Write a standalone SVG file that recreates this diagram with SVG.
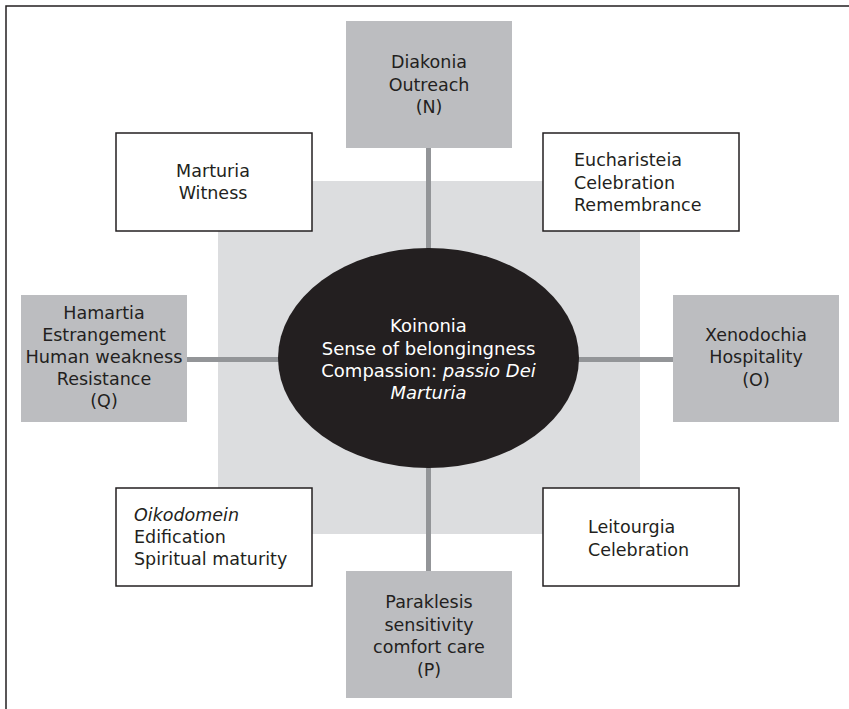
<svg xmlns="http://www.w3.org/2000/svg" width="849" height="709" viewBox="0 0 849 709">
<style>
.t{font-family:"DejaVu Sans","Liberation Sans",sans-serif;font-size:17.5px;fill:#231f20}
.c{text-anchor:middle}
.w{font-family:"DejaVu Sans","Liberation Sans",sans-serif;font-size:18px;fill:#ffffff;text-anchor:middle}
.g{fill:#bcbdc0;stroke:none}
.b{fill:#ffffff;stroke:#231f20;stroke-width:1.5}
.conn{stroke:#939598;stroke-width:5;fill:none}
</style>
<rect width="849" height="709" fill="#ffffff"/>
<path d="M6 709 V6 H849" fill="none" stroke="#231f20" stroke-width="1.5"/>
<rect id="background" x="218" y="181" width="422" height="353" fill="#dcdddf"/>
<g id="connectors">
<line class="conn" x1="428.5" y1="148" x2="428.5" y2="250"/>
<line class="conn" x1="428.5" y1="466" x2="428.5" y2="571"/>
<line class="conn" x1="187" y1="359.5" x2="280" y2="359.5"/>
<line class="conn" x1="577" y1="359.5" x2="673" y2="359.5"/>
</g>
<g id="koinonia">
<ellipse cx="428.5" cy="358" rx="150.5" ry="110" fill="#231f20"/>
<text class="w" x="428.5" y="332">Koinonia</text>
<text class="w" x="428.5" y="355">Sense of belongingness</text>
<text class="w" x="428.5" y="377">Compassion: <tspan font-style="italic">passio Dei</tspan></text>
<text class="w" x="428.5" y="399" font-style="italic">Marturia</text>
</g>
<g id="diakonia">
<rect class="g" x="346" y="21" width="166" height="127"/>
<text class="t c" x="429" y="68">Diakonia</text>
<text class="t c" x="429" y="90.5">Outreach</text>
<text class="t c" x="429" y="113">(N)</text>
</g>
<g id="marturia">
<rect class="b" x="116" y="133" width="196" height="98"/>
<text class="t c" x="213" y="177">Marturia</text>
<text class="t c" x="213" y="199">Witness</text>
</g>
<g id="eucharisteia">
<rect class="b" x="543" y="133" width="196" height="98"/>
<text class="t" x="574" y="166">Eucharisteia</text>
<text class="t" x="574" y="188.5">Celebration</text>
<text class="t" x="574" y="211">Remembrance</text>
</g>
<g id="hamartia">
<rect class="g" x="21" y="295" width="166" height="127"/>
<text class="t c" x="104" y="319">Hamartia</text>
<text class="t c" x="104" y="341">Estrangement</text>
<text class="t c" x="104" y="363" textLength="157" lengthAdjust="spacingAndGlyphs">Human weakness</text>
<text class="t c" x="104" y="385">Resistance</text>
<text class="t c" x="104" y="407">(Q)</text>
</g>
<g id="xenodochia">
<rect class="g" x="673" y="295" width="166" height="127"/>
<text class="t c" x="756" y="341">Xenodochia</text>
<text class="t c" x="756" y="363">Hospitality</text>
<text class="t c" x="756" y="386">(O)</text>
</g>
<g id="oikodomein">
<rect class="b" x="116" y="488" width="196" height="98"/>
<text class="t" x="134" y="521" font-style="italic">Oikodomein</text>
<text class="t" x="134" y="543">Edification</text>
<text class="t" x="134" y="565">Spiritual maturity</text>
</g>
<g id="leitourgia">
<rect class="b" x="543" y="488" width="196" height="98"/>
<text class="t" x="588" y="533">Leitourgia</text>
<text class="t" x="588" y="556">Celebration</text>
</g>
<g id="paraklesis">
<rect class="g" x="346" y="571" width="166" height="127"/>
<text class="t c" x="429" y="608">Paraklesis</text>
<text class="t c" x="429" y="631">sensitivity</text>
<text class="t c" x="429" y="653">comfort care</text>
<text class="t c" x="429" y="676">(P)</text>
</g>
</svg>
